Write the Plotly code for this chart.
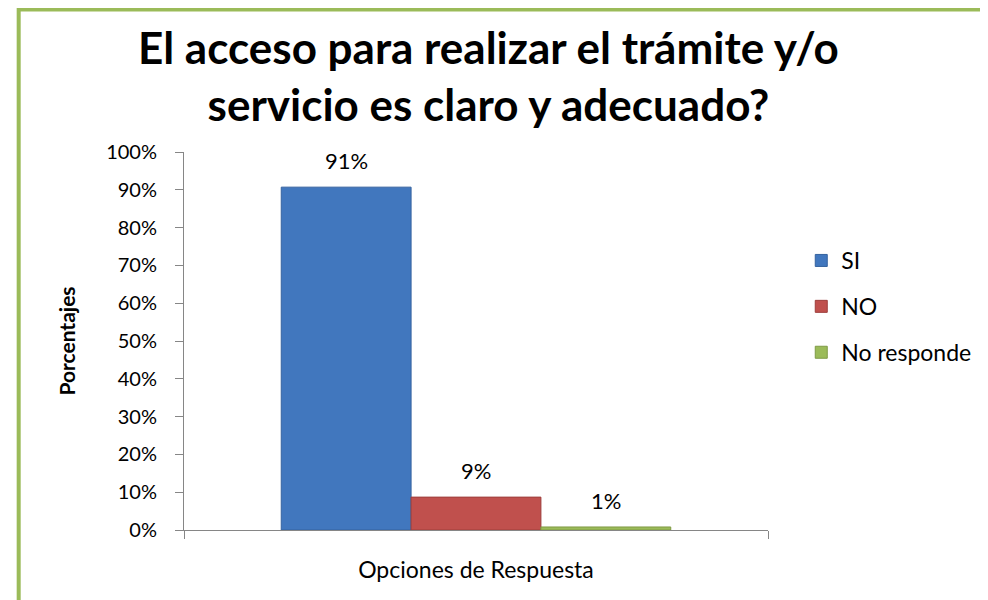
import plotly.graph_objects as go

categories = ["Opciones de Respuesta"]
series_names = ["SI", "NO", "No responde"]
series_values = [0.907, 0.087, 0.008]
series_colors = ["#4177BE", "#C0504D", "#9BBB59"]
line_colors = ["#35629F", "#9E3E3B", "#7F9A45"]
y_ticks = [0, 0.1, 0.2, 0.3, 0.4, 0.5, 0.6, 0.7, 0.8, 0.9, 1.0]
y_tick_labels = ["0%", "10%", "20%", "30%", "40%", "50%", "60%", "70%", "80%", "90%", "100%"]

title_text = "El acceso para realizar el trámite y/o<br>servicio es claro y adecuado?"
font_family = "Lato, Open Sans, sans-serif"

# page has an 8px body margin; work in screen pixels and shift
OFF = 8
W, H = 988 - OFF, 600 - OFF
L, R, T, B = 184 - OFF, 781 - OFF, 152 - OFF, 530 - OFF
BARGAP = 0.333

def px_x(x):
    return (x - OFF - L) / (R - L)

def px_y(y):
    return (B - (y - OFF)) / (B - T)

fig = go.Figure()
n = len(series_names)
bar_w = (1 - BARGAP) / n
annotations = []
for i, (name, val, col, lc) in enumerate(zip(series_names, series_values, series_colors, line_colors)):
    fig.add_trace(go.Bar(
        name=name, x=[0], y=[val],
        marker=dict(color=col, line=dict(color=lc, width=1)),
        legendgroup=name,
    ))
    annotations.append(dict(
        x=-0.5 * (1 - BARGAP) + (i + 0.5) * bar_w, y=val, xref="x", yref="y",
        text=f"{val:.0%}", showarrow=False, xanchor="center", yanchor="bottom",
        yshift=11, font=dict(size=22, family=font_family, color="#000000"),
    ))

annotations.append(dict(
    text="<b>" + title_text + "</b>", xref="paper", yref="paper",
    x=px_x(495), y=px_y(75), xanchor="center", yanchor="middle",
    showarrow=False, font=dict(size=44, family=font_family, color="#000000"),
))

fig.update_layout(
    width=W, height=H,
    margin=dict(l=L, r=W - R, t=T, b=H - B),
    paper_bgcolor="white", plot_bgcolor="white",
    barmode="group", bargap=BARGAP, bargroupgap=0,
    font=dict(family=font_family, size=20, color="#000000"),
    showlegend=True,
    legend=dict(
        x=px_x(815), y=px_y(239), xanchor="left", yanchor="top",
        font=dict(size=23, family=font_family),
        traceorder="grouped", tracegroupgap=13,
        itemwidth=30,
    ),
    xaxis=dict(
        showticklabels=False, showline=True, linecolor="#868686", linewidth=1,
        ticks="outside", ticklen=8, tickcolor="#868686",
        tickmode="array", tickvals=[-0.5, 0.5], range=[-0.5, 0.5],
        title=dict(text=categories[0], font=dict(size=23, family=font_family), standoff=23),
        showgrid=False, zeroline=False, type="linear",
    ),
    yaxis=dict(
        range=[0, 1], tickmode="array", tickvals=y_ticks, ticktext=y_tick_labels,
        showline=True, linecolor="#868686", linewidth=1,
        ticks="outside", ticklen=8, tickcolor="#868686", ticklabelstandoff=14,
        showgrid=False, zeroline=False,
        tickfont=dict(size=20, family=font_family),
        title=dict(text="<b>Porcentajes</b>", font=dict(size=21, family=font_family), standoff=24),
    ),
    annotations=annotations,
    shapes=[dict(
        type="rect", xref="paper", yref="paper",
        x0=px_x(15), x1=px_x(1010), y0=px_y(620), y1=px_y(9.5),
        line=dict(color="#9BBB59", width=4), fillcolor="rgba(0,0,0,0)", layer="below",
    )],
)

fig.write_html("out.html")
